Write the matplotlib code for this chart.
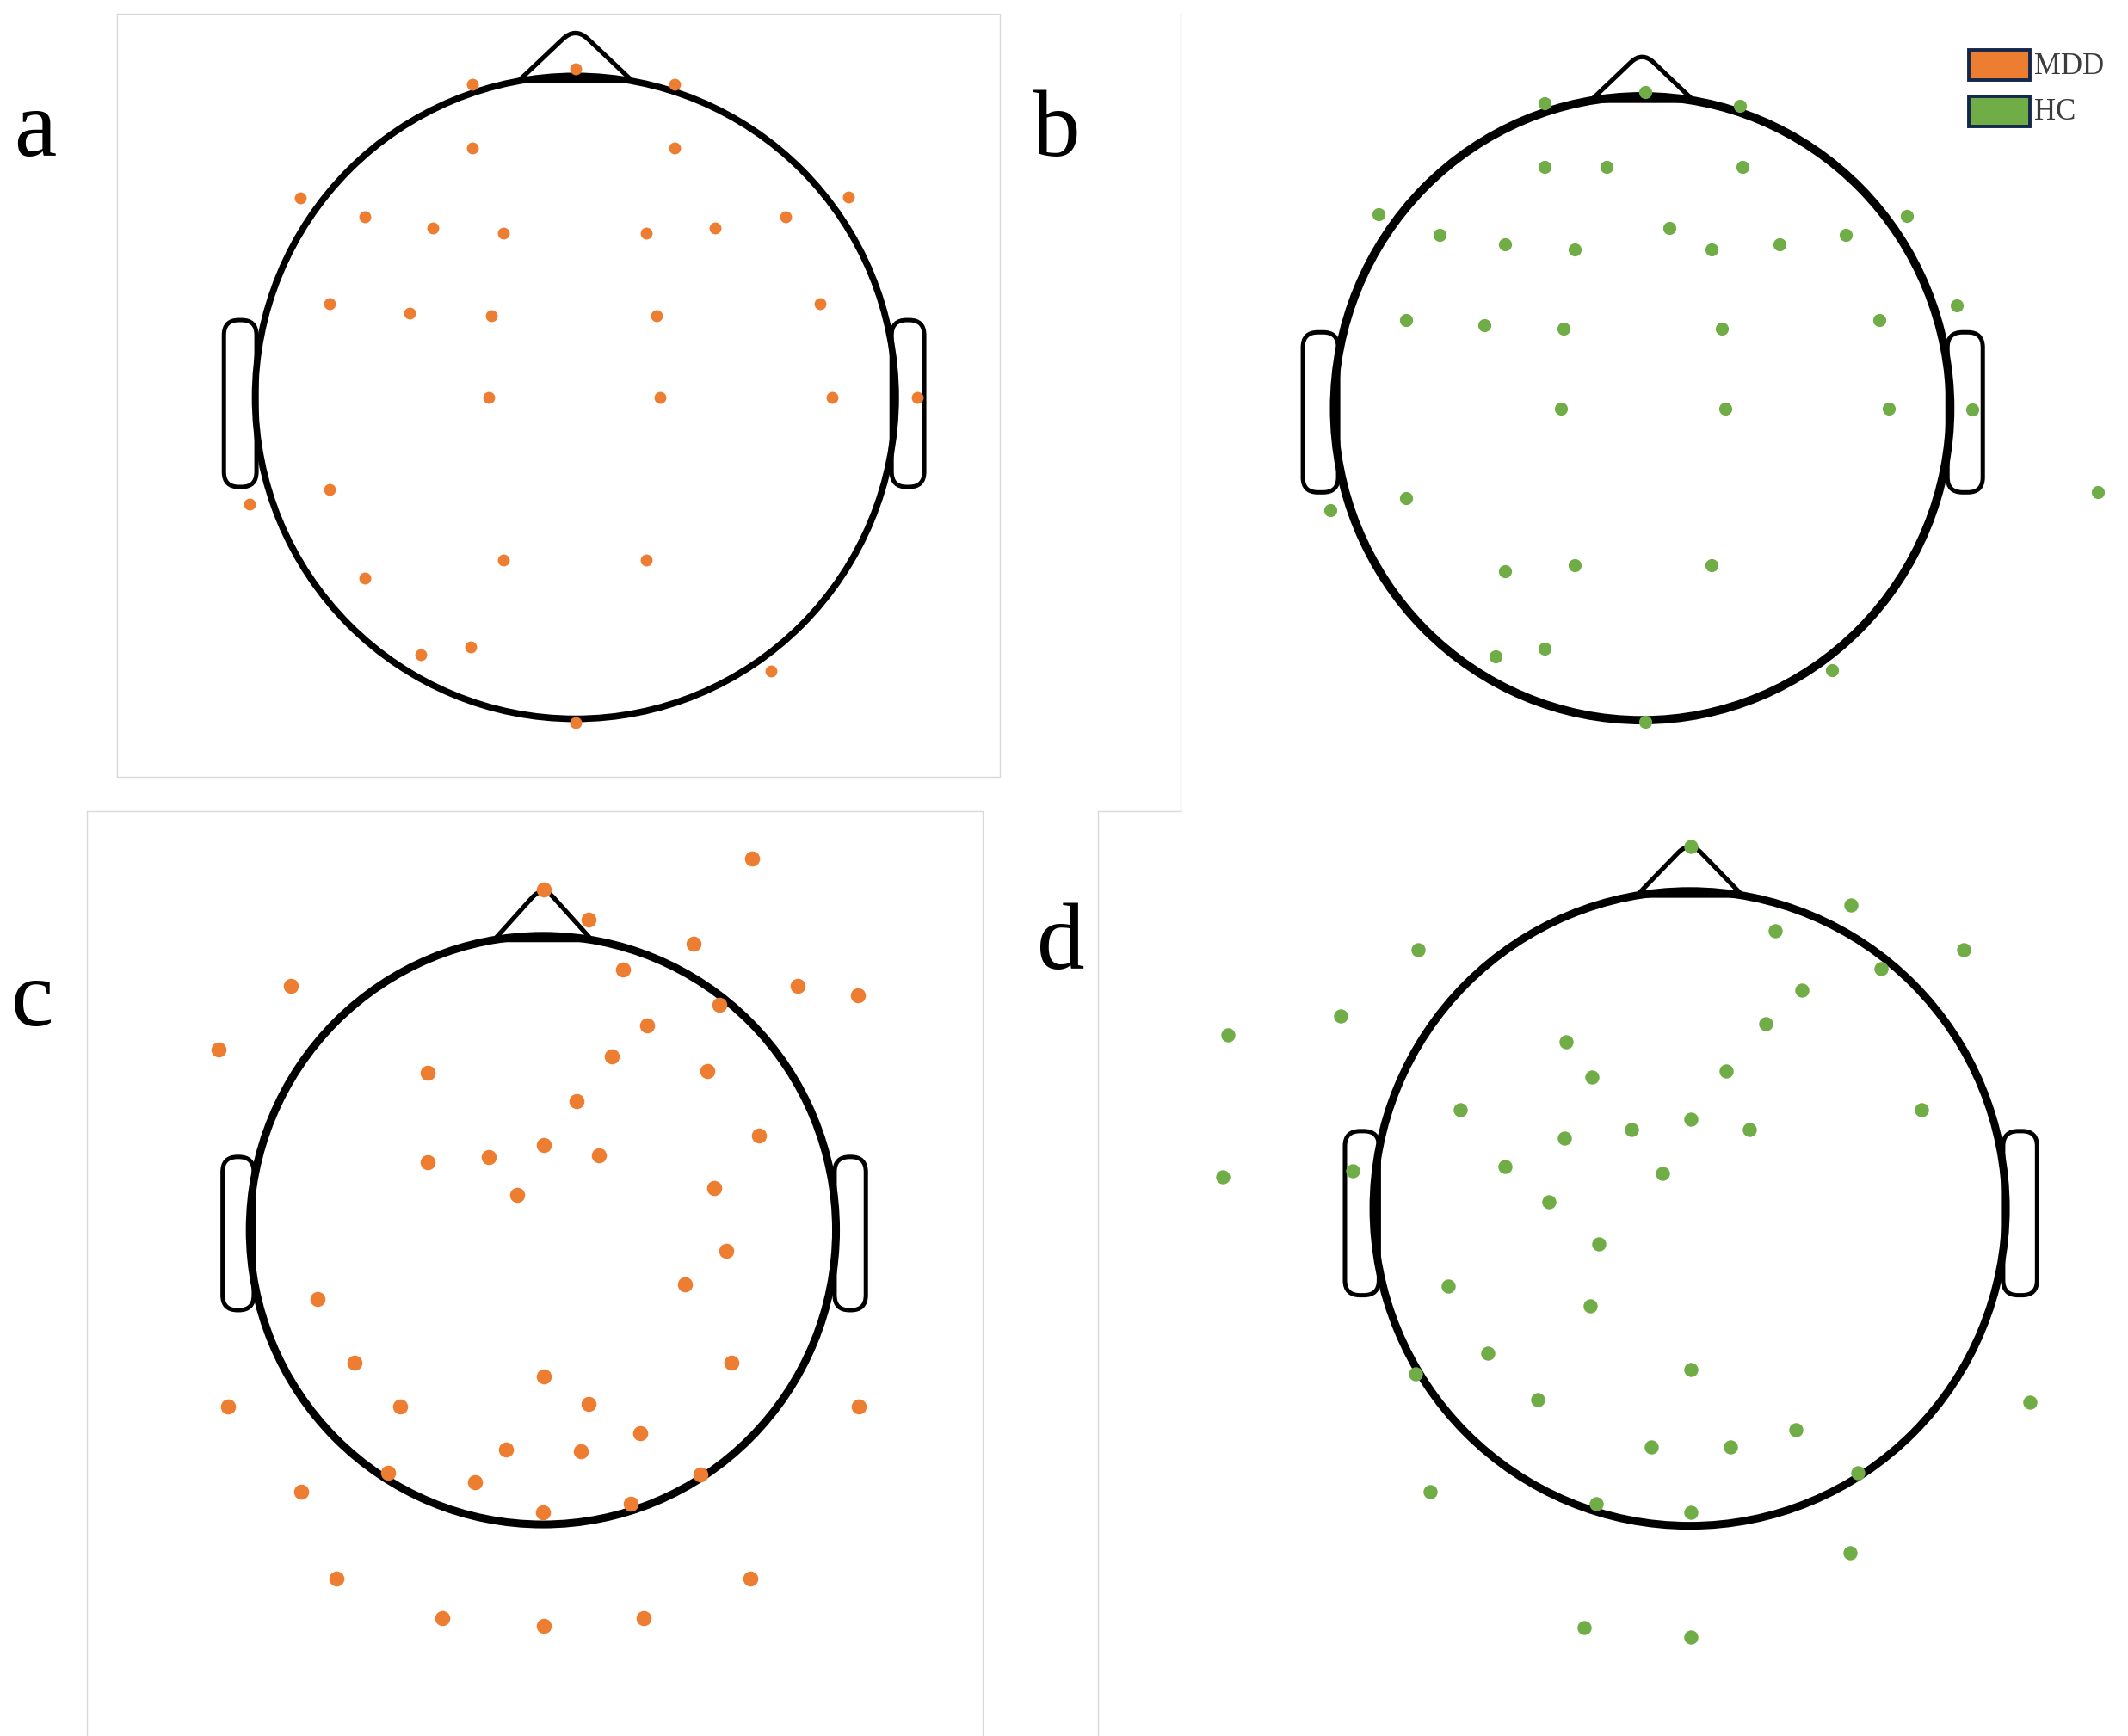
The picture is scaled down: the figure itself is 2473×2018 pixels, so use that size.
import numpy as np
import matplotlib
matplotlib.use("Agg")
import matplotlib.pyplot as plt
from matplotlib.patches import Ellipse, Rectangle, FancyBboxPatch, PathPatch
from matplotlib.path import Path

# electrode positions (image units, 1568 x 1280, y downwards)
a_x = [348, 424, 497, 348, 497, 221, 625, 269, 319, 371, 476, 527, 579,
       243, 302, 362, 484, 604, 360, 486, 613, 676, 243, 184, 371, 476,
       269, 310, 347, 568, 424]
a_y = [62, 51, 62, 109, 109, 146, 145, 160, 168, 172, 172, 168, 160,
       224, 231, 233, 233, 224, 293, 293, 293, 293, 361, 372, 413, 413,
       426, 483, 477, 495, 533]

b_x = [1138, 1212, 1282, 1138, 1184, 1284, 1016, 1405, 1061, 1109, 1160,
       1230, 1261, 1311, 1360, 1442, 1036, 1094, 1152, 1269, 1385, 1150,
       1271, 1392, 1453, 1546, 1036, 980, 1109, 1160, 1261, 1102, 1138,
       1350, 1212]
b_y = [76, 68, 78, 123, 123, 123, 158, 159, 173, 180, 184, 168, 184, 180,
       173, 225, 236, 240, 242, 242, 236, 301, 301, 301, 302, 363, 367,
       376, 421, 417, 417, 484, 478, 494, 532]

c_x = [554, 401, 434, 511, 459, 214, 588, 632, 530, 477, 161, 451, 315,
       521, 425, 559, 401, 360, 441, 315, 381, 526, 535, 505, 234, 261,
       539, 401, 168, 295, 434, 472, 373, 428, 633, 286, 350, 516, 222,
       400, 465, 248, 553, 326, 401, 474]
c_y = [633, 656, 678, 696, 715, 727, 727, 734, 741, 756, 774, 779, 791,
       790, 812, 837, 844, 853, 852, 857, 881, 876, 922, 947, 958, 1005,
       1005, 1015, 1037, 1037, 1035, 1057, 1069, 1070, 1037, 1086, 1093,
       1087, 1100, 1115, 1109, 1164, 1164, 1193, 1199, 1193]

d_x = [1246, 1364, 1308, 1045, 1447, 1386, 1328, 988, 905, 1301, 1154,
       1173, 1272, 1076, 1416, 1246, 1202, 1289, 1153, 1109, 1225, 901,
       997, 1141, 1178, 1067, 1172, 1096, 1246, 1043, 1133, 1496, 1323,
       1217, 1275, 1369, 1054, 1176, 1246, 1363, 1167, 1246]
d_y = [624, 667, 686, 700, 700, 714, 730, 749, 763, 755, 768, 794, 790,
       818, 818, 825, 833, 833, 839, 860, 865, 868, 863, 886, 917, 948,
       963, 998, 1010, 1013, 1032, 1034, 1054, 1067, 1067, 1086, 1100,
       1109, 1115, 1145, 1200, 1207]

panel_labels = ["a", "b", "c", "d"]
group_names = ["MDD", "HC"]
group_colors = ["#ED7D31", "#70AD47"]

# head layout: centre, radii, nose apex y, nose half width,
# ears (x_left, x_right, width, y_top, y_bottom), outline width
heads = [
    dict(c=(424, 293), r=(236, 237), apex=20, hw=42, ears=(165, 657, 24, 236, 359), lw=5.5),
    dict(c=(1210, 301), r=(227, 230), apex=38, hw=38, ears=(960, 1435, 26, 245, 363), lw=7.0),
    dict(c=(400, 907), r=(216, 217), apex=653, hw=36, ears=(164, 615, 23, 853, 966), lw=6.5),
    dict(c=(1245, 891), r=(233, 234), apex=620, hw=39, ears=(991, 1476, 25, 834, 955), lw=6.5),
]
dot_sizes = [100, 120, 160, 140]
label_pos = [(10, 115), (761, 115), (8, 756), (764, 714)]

fig = plt.figure(figsize=(24.73, 20.18), dpi=100)
ax = fig.add_axes([0, 0, 1, 1])
ax.set_xlim(0, 1568)
ax.set_ylim(1280, 0)
ax.axis("off")

# faint panel frames
frame_kw = dict(color="#D9D9D9", lw=1.0, zorder=0)
ax.plot([86, 737, 737, 86, 86], [10, 10, 573, 573, 10], **frame_kw)
ax.plot([870, 870], [10, 598], **frame_kw)
ax.plot([809, 870], [598, 598], **frame_kw)
ax.plot([809, 809], [598, 1280], **frame_kw)
ax.plot([64, 64, 724, 724], [1280, 598, 598, 1280], **frame_kw)


def nose_path(cx, yb, apex, hw, t=0.22):
    # triangle with a rounded tip (quadratic bezier at the apex)
    lx, rx = cx - hw, cx + hw
    p1 = (cx + (lx - cx) * t, apex + (yb - apex) * t)
    p2 = (cx + (rx - cx) * t, apex + (yb - apex) * t)
    verts = [(lx, yb), p1, (cx, apex), p2, (rx, yb), (lx, yb)]
    codes = [Path.MOVETO, Path.LINETO, Path.CURVE3, Path.CURVE3, Path.LINETO, Path.LINETO]
    return Path(verts, codes)


for h in heads:
    cx, cy = h["c"]
    rx, ry = h["r"]
    ax.add_patch(Ellipse((cx, cy), 2 * rx, 2 * ry, fill=False, ec="black", lw=h["lw"], zorder=2))
    hw = h["hw"]
    yb = cy - ry * np.sqrt(1 - (hw / rx) ** 2)
    ax.add_patch(PathPatch(nose_path(cx, yb, h["apex"], hw), fill=False, ec="black",
                           lw=3.8, joinstyle="round", capstyle="round", zorder=2))
    xl, xr, w, yt, ybot = h["ears"]
    for x0 in (xl, xr):
        ax.add_patch(FancyBboxPatch((x0, yt), w, ybot - yt,
                                    boxstyle="round,pad=0,rounding_size=11",
                                    fill=False, ec="black", lw=3.6, zorder=1))

panels = [(a_x, a_y, 0), (b_x, b_y, 1), (c_x, c_y, 0), (d_x, d_y, 1)]
for i, (xs, ys, g) in enumerate(panels):
    ax.scatter(xs, ys, s=dot_sizes[i], color=group_colors[g], linewidths=0, zorder=3)
    lx, ly = label_pos[i]
    ax.text(lx, ly, panel_labels[i], fontsize=80, family="Liberation Serif",
            ha="left", va="baseline", color="black")

# legend
for k, (name, col) in enumerate(zip(group_names, group_colors)):
    y0 = 37 + 34 * k
    ax.add_patch(Rectangle((1451, y0), 45, 22, fc=col, ec="#14284B", lw=2.8, zorder=4))
    ax.text(1499, y0 + 12, name, fontsize=25, family="Liberation Serif",
            ha="left", va="center", color="#3C3C3C")

fig.savefig("out.png", dpi=100, facecolor="white")
